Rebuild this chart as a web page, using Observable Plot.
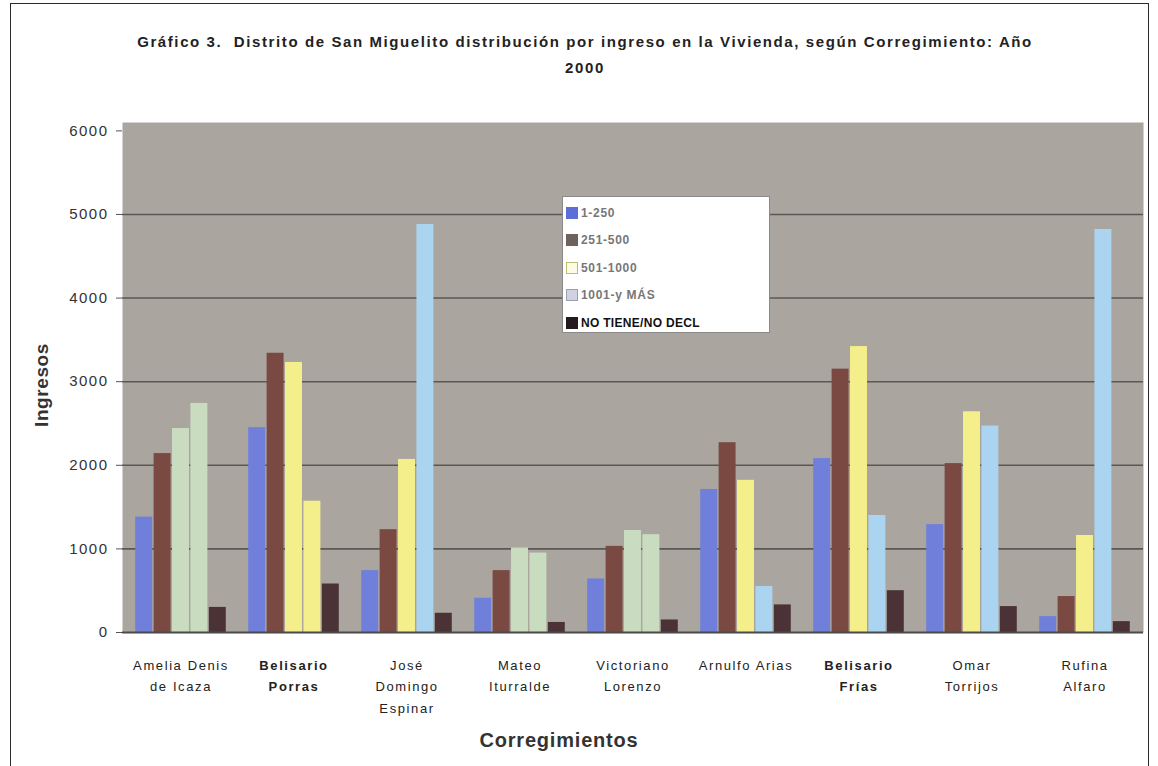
<!DOCTYPE html>
<html>
<head>
<meta charset="utf-8">
<script src="https://cdn.jsdelivr.net/npm/d3@7"></script>
<script src="https://cdn.jsdelivr.net/npm/@observablehq/plot@0.6"></script>
<style>
  html, body { margin: 0; padding: 0; background: #fff; }
  #page { position: relative; width: 1158px; height: 766px; overflow: hidden; font-family: "Liberation Sans", Arial, sans-serif; }
  #border { position: absolute; left: 10px; top: 3px; width: 1139px; height: 780px; border: 1.5px solid #2a2a2a; box-sizing: border-box; }
  #title { position: absolute; left: 85px; width: 1000px; top: 29px; text-align: center; font-weight: bold; font-size: 15px; line-height: 26px; color: #222; letter-spacing: 1.6px; white-space: pre; }
  #chart { position: absolute; left: 0; top: 0; }
  #ylabel { position: absolute; left: 42px; top: 385px; transform: translate(-50%, -50%) rotate(-90deg); font-weight: bold; font-size: 19px; color: #333; white-space: nowrap; letter-spacing: 0.6px; }
  #xlabel { position: absolute; left: 559px; top: 740px; transform: translate(-50%, -50%); font-weight: bold; font-size: 20px; color: #333; white-space: nowrap; letter-spacing: 0.8px; }
  #legend { position: absolute; left: 562px; top: 196px; width: 208px; height: 137px; background: #fff; border: 1px solid #8a8a8a; box-sizing: border-box; padding-top: 2px; }
  .item { height: 27.5px; display: flex; align-items: center; padding-left: 3px; font-size: 12px; font-weight: bold; color: #777; letter-spacing: 0.7px; }
  .item.last { color: #111; font-weight: 900; letter-spacing: 0.3px; }
  .sw { width: 12px; height: 12px; margin-right: 3px; box-sizing: border-box; }
</style>
</head>
<body>
<div id="page">
  <div id="border"></div>
  <div id="title"></div>
  <div id="chart"></div>
  <div id="ylabel">Ingresos</div>
  <div id="xlabel">Corregimientos</div>
  <div id="legend"></div>
</div>
<script>
// ---------- data ----------
const categories = ["Amelia Denis de Icaza", "Belisario Porras", "José Domingo Espinar", "Mateo Iturralde", "Victoriano Lorenzo", "Arnulfo Arias", "Belisario Frías", "Omar Torrijos", "Rufina Alfaro"];
const tickLabels = ["Amelia Denis\nde Icaza", "Belisario\nPorras", "José\nDomingo\nEspinar", "Mateo\nIturralde", "Victoriano\nLorenzo", "Arnulfo Arias", "Belisario\nFrías", "Omar\nTorrijos", "Rufina\nAlfaro"];
const series = ["1-250", "251-500", "501-1000", "1001-y MÁS", "NO TIENE/NO DECL"];
const v1_250    = [1380, 2450, 740, 410, 640, 1710, 2080, 1290, 190];
const v251_500  = [2140, 3340, 1230, 740, 1030, 2270, 3150, 2020, 430];
const v501_1000 = [2440, 3230, 2070, 1010, 1220, 1820, 3420, 2640, 1160];
const v1001_mas = [2740, 1570, 4880, 950, 1170, 550, 1400, 2470, 4820];
const vNoDecl   = [300, 580, 230, 120, 150, 330, 500, 310, 130];
const yTicks = [0, 1000, 2000, 3000, 4000, 5000, 6000];
const titleLines = ["Gráfico 3.  Distrito de San Miguelito distribución por ingreso en la Vivienda, según Corregimiento: Año", "2000"];

// ---------- styles ----------
const seriesColors = ["#6f7fda", "#7a4a42", "#f4ef8a", "#aad4f0", "#4a3237"];
const legendSwatches = [
  {fill: "#5d6fd6", stroke: "#5d6fd6"},
  {fill: "#6e625e", stroke: "#6e625e"},
  {fill: "#fbfbe6", stroke: "#b9bf6a"},
  {fill: "#cfd3df", stroke: "#9aa0b0"},
  {fill: "#231a1e", stroke: "#231a1e"}
];
// retouched bars in the scanned original
const greenFill = "#c9dcc0";
const overrides = {
  "Amelia Denis de Icaza|2": greenFill, "Amelia Denis de Icaza|3": greenFill,
  "Mateo Iturralde|2": greenFill, "Mateo Iturralde|3": greenFill,
  "Victoriano Lorenzo|2": greenFill, "Victoriano Lorenzo|3": greenFill,
  "Belisario Porras|3": "#f4ef8a"
};
const boldTicks = new Set(["Belisario Porras", "Belisario Frías"]);

const valueArrays = [v1_250, v251_500, v501_1000, v1001_mas, vNoDecl];
const rows = [];
series.forEach((s, k) => categories.forEach((c, i) => rows.push({cat: c, series: s, k, value: valueArrays[k][i]})));

document.getElementById("title").textContent = titleLines.join("\n");
const leg = document.getElementById("legend");
series.forEach((s, k) => {
  const it = document.createElement("div");
  it.className = "item" + (k === series.length - 1 ? " last" : "");
  const sw = document.createElement("div");
  sw.className = "sw";
  sw.style.background = legendSwatches[k].fill;
  sw.style.border = "1px solid " + legendSwatches[k].stroke;
  it.appendChild(sw);
  it.appendChild(document.createTextNode(s));
  leg.appendChild(it);
});

const W = 1158, H = 766;
const mL = 122, mR = 15, mT = 122, mB = 134;
const band = (W - mL - mR) / categories.length;
const step = 18.4, barW = 17.4;
const inset = (band - barW) / 2;

const barMarks = series.map((s, k) => Plot.barY(rows.filter(r => r.k === k), {
  x: "cat", y: "value",
  fill: r => overrides[r.cat + "|" + k] || seriesColors[k],
  dx: (k - 2) * step,
  insetLeft: inset, insetRight: inset
}));

const chart = Plot.plot({
  width: W, height: H,
  marginLeft: mL, marginRight: mR, marginTop: mT, marginBottom: mB,
  style: {background: "transparent", fontFamily: "'Liberation Sans', Arial, sans-serif", color: "#222"},
  x: {domain: categories, padding: 0, axis: null},
  y: {domain: [0, 6100], axis: null},
  marks: [
    Plot.frame({fill: "#aaa59e", stroke: null}),
    Plot.ruleY(yTicks.filter(t => t > 0 && t < 6000), {stroke: "#5a5855", strokeWidth: 1.6}),
    ...barMarks,
    Plot.ruleY([0], {stroke: "#4a4a4a", strokeWidth: 2}),
    Plot.axisY({ticks: yTicks, tickFormat: d => String(d), tickSize: 6, tickPadding: 8, fontSize: 15, stroke: "#555", fill: "#333", label: null}),
    Plot.axisX({tickFormat: d => tickLabels[categories.indexOf(d)], tickSize: 0, tickPadding: 22, fontSize: 13, lineHeight: 1.65, fill: "#222", label: null})
  ]
});
document.getElementById("chart").appendChild(chart);
const boldKeys = new Set([...boldTicks].map(c => c.replace(/\s+/g, "")));
d3.select(chart).selectAll("text").each(function() {
  const t = this.textContent.replace(/\s+/g, "");
  if (boldKeys.has(t)) d3.select(this).style("font-weight", "bold");
});
d3.select(chart).selectAll("[aria-label='x-axis tick label'] text").style("letter-spacing", "1.6px");
d3.select(chart).selectAll("[aria-label='y-axis tick label'] text").style("letter-spacing", "1.5px");
</script>
</body>
</html>
